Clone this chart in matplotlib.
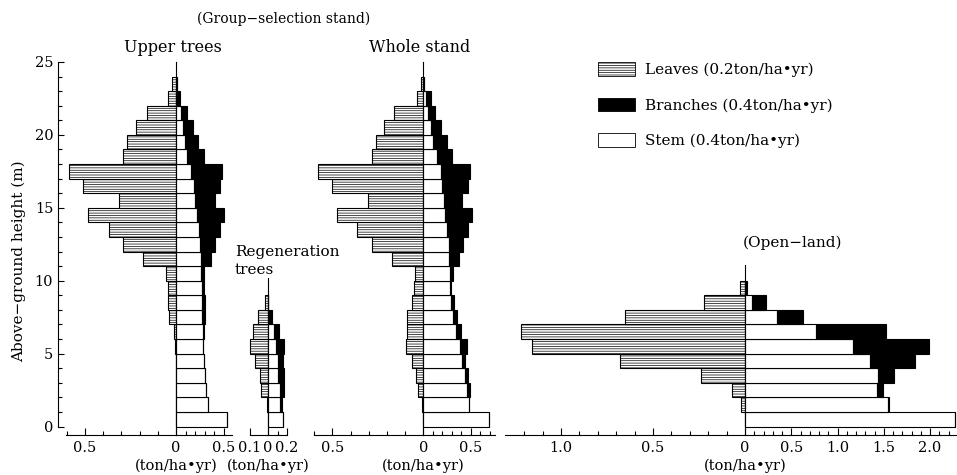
import numpy as np
import matplotlib
matplotlib.use('Agg')
import matplotlib.pyplot as plt
from matplotlib.patches import Patch
from matplotlib.ticker import MultipleLocator, FixedLocator, FuncFormatter

plt.rcParams['font.family'] = ['DejaVu Serif']
plt.rcParams['hatch.linewidth'] = 0.5

# ---------------- data (ton/ha/yr per 1-m height layer; lower edge of layer in m) -------------
upper_heights = [0, 1, 2, 3, 4, 5, 6, 7, 8, 9, 10, 11, 12, 13, 14, 15, 16, 17, 18, 19, 20, 21, 22, 23]
upper_leaves = [0, 0, 0, 0, 0, 0.004, 0.01, 0.038, 0.042, 0.046, 0.055, 0.18, 0.289, 0.366,
                0.482, 0.311, 0.513, 0.586, 0.289, 0.267, 0.22, 0.161, 0.042, 0.024]
upper_stem = [0.535, 0.34, 0.32, 0.31, 0.29, 0.285, 0.285, 0.278, 0.278, 0.274, 0.267, 0.267,
              0.257, 0.24, 0.226, 0.205, 0.19, 0.163, 0.12, 0.094, 0.076, 0.049, 0.0, 0.01]
upper_branches = [0, 0, 0, 0, 0, 0, 0.005, 0.031, 0.024, 0.018, 0.024, 0.105, 0.156, 0.225,
                  0.284, 0.208, 0.268, 0.323, 0.17, 0.139, 0.104, 0.062, 0.04, 0.005]

regen_heights = [0, 1, 2, 3, 4, 5, 6, 7, 8]
regen_leaves = [0, 0.005, 0.037, 0.046, 0.07, 0.097, 0.082, 0.055, 0.018]
regen_stem = [0.158, 0.13, 0.123, 0.105, 0.105, 0.088, 0.063, 0.01, 0.0]
regen_branches = [0, 0.017, 0.045, 0.063, 0.053, 0.08, 0.053, 0.03, 0.0]

whole_heights = [0, 1, 2, 3, 4, 5, 6, 7, 8, 9, 10, 11, 12, 13, 14, 15, 16, 17, 18, 19, 20, 21, 22, 23]
whole_leaves = [0, 0.005, 0.027, 0.04, 0.06, 0.095, 0.088, 0.088, 0.06, 0.049, 0.046, 0.17,
                0.284, 0.363, 0.476, 0.306, 0.504, 0.58, 0.284, 0.26, 0.214, 0.161, 0.037, 0.015]
whole_stem = [0.694, 0.476, 0.458, 0.44, 0.406, 0.382, 0.347, 0.312, 0.288, 0.285, 0.285, 0.27,
              0.271, 0.253, 0.233, 0.219, 0.198, 0.184, 0.149, 0.104, 0.08, 0.052, 0.025, 0.01]
whole_branches = [0, 0.005, 0.035, 0.029, 0.034, 0.076, 0.053, 0.046, 0.032, 0.01, 0.028, 0.102,
                  0.146, 0.216, 0.277, 0.187, 0.271, 0.309, 0.157, 0.149, 0.11, 0.068, 0.055, 0.0]

open_heights = [0, 1, 2, 3, 4, 5, 6, 7, 8, 9]
open_leaves = [0, 0.022, 0.069, 0.238, 0.68, 1.159, 1.218, 0.653, 0.222, 0.027]
open_stem = [2.27, 1.55, 1.43, 1.44, 1.35, 1.164, 0.768, 0.342, 0.072, 0.005]
open_branches = [0, 0.012, 0.065, 0.174, 0.488, 0.829, 0.752, 0.281, 0.151, 0.02]

legend_labels = ['Leaves (0.2ton/ha\u2022yr)', 'Branches (0.4ton/ha\u2022yr)', 'Stem (0.4ton/ha\u2022yr)']
unit_label = '(ton/ha\u2022yr)'

# ---------------- layout ----------------
W, H = 957, 475
fig = plt.figure(figsize=(W / 100, H / 100), dpi=100)

AX_TOP, AX_BOT = 50, 435
Y0_PX, PX_PER_M = 426.5, 14.58
YLIM = (-(AX_BOT - Y0_PX) / PX_PER_M, (Y0_PX - AX_TOP) / PX_PER_M)
HATCH = '-------'
LW = 0.8


def px_axes(x0, x1):
    return fig.add_axes([x0 / W, 1 - AX_BOT / H, (x1 - x0) / W, (AX_BOT - AX_TOP) / H])


def fmt(v, pos):
    return '0' if abs(v) < 1e-9 else f'{v:.1f}'


def panel(heights, leaves, branches, stem, x0, xz, x1, leaf_lim, wood_lim,
          leaf_major, wood_major, leaf_minor, wood_minor, line_top):
    axl = px_axes(x0, xz)
    axr = px_axes(xz, x1)
    y = np.asarray(heights, dtype=float) + 0.5
    axl.barh(y, leaves, height=1, facecolor='white', edgecolor='black',
             hatch=HATCH, linewidth=LW, clip_on=False)
    axr.barh(y, stem, height=1, facecolor='white', edgecolor='black',
             linewidth=LW, clip_on=False)
    axr.barh(y, branches, left=stem, height=1, facecolor='black', edgecolor='black',
             linewidth=LW, clip_on=False)
    axl.set_xlim(leaf_lim, 0)
    axr.set_xlim(0, wood_lim)
    for ax in (axl, axr):
        ax.set_ylim(*YLIM)
        ax.patch.set_visible(False)
        for s in ('top', 'right', 'left'):
            ax.spines[s].set_visible(False)
        ax.spines['bottom'].set_linewidth(LW)
        ax.tick_params(axis='x', which='both', direction='in', labelsize=10.5, pad=4, width=LW)
        ax.tick_params(axis='x', which='major', length=5)
        ax.tick_params(axis='x', which='minor', length=3)
        ax.tick_params(axis='y', which='both', left=False, labelleft=False)
        ax.xaxis.set_major_formatter(FuncFormatter(fmt))
    axl.xaxis.set_major_locator(FixedLocator(leaf_major))
    axr.xaxis.set_major_locator(FixedLocator(wood_major))
    axl.xaxis.set_minor_locator(FixedLocator(leaf_minor))
    axr.xaxis.set_minor_locator(FixedLocator(wood_minor))
    axr.plot([0, 0], [YLIM[0], line_top], color='black', lw=LW, clip_on=False)
    fig.text(xz / W, 1 - 466 / H, unit_label, ha='center', va='center', fontsize=10.5)
    return axl, axr


# Upper trees
axl1, axr1 = panel(upper_heights, upper_leaves, upper_branches, upper_stem,
                   66, 176, 232, 110 / 182, 56 / 95,
                   [0.5], [0, 0.5], [0.1, 0.2, 0.3, 0.4, 0.6], [0.1, 0.2, 0.3, 0.4],
                   25)
# Regeneration trees
panel(regen_heights, regen_leaves, regen_branches, regen_stem,
      249.8, 268, 287, 0.1, 0.2,
      [0.1], [0, 0.2], [], [0.1], 10.2)
# Whole stand
panel(whole_heights, whole_leaves, whole_branches, whole_stem,
      314, 423.3, 495, 109.3 / 182, 71.7 / 95,
      [0.5], [0, 0.5], [0.1, 0.2, 0.3, 0.4, 0.6], [0.1, 0.2, 0.3, 0.4, 0.6, 0.7],
      25)
# Open land
panel(open_heights, open_leaves, open_branches, open_stem,
      505, 745, 957, 240 / 184, 212 / 92.5,
      [0.5, 1.0], [0, 0.5, 1.0, 1.5, 2.0],
      [0.1, 0.2, 0.3, 0.4, 0.6, 0.7, 0.8, 0.9, 1.1, 1.2],
      [0.1, 0.2, 0.3, 0.4, 0.6, 0.7, 0.8, 0.9, 1.1, 1.2, 1.3, 1.4, 1.6, 1.7, 1.8, 1.9, 2.1, 2.2],
      11.05)

# y axis on the first panel
sp = axl1.spines['left']
sp.set_visible(True)
sp.set_linewidth(LW)
sp.set_position(('outward', 8 * 0.72))
sp.set_bounds(0, 25)
axl1.set_yticks([0, 5, 10, 15, 20, 25])
axl1.yaxis.set_minor_locator(MultipleLocator(1))
axl1.tick_params(axis='y', which='both', left=True, labelleft=True, direction='in',
                 labelsize=10.5, pad=3.5, width=LW)
axl1.tick_params(axis='y', which='major', length=4)
axl1.tick_params(axis='y', which='minor', length=3)

fig.text(19 / W, 1 - 261 / H, 'Above\u2212ground height (m)', rotation=90,
         ha='center', va='center', fontsize=11)

# titles
fig.text(284 / W, 1 - 19 / H, '(Group\u2212selection stand)', ha='center', va='center', fontsize=10)
fig.text(173 / W, 1 - 47 / H, 'Upper trees', ha='center', va='center', fontsize=11.5)
fig.text(420 / W, 1 - 48 / H, 'Whole stand', ha='center', va='center', fontsize=11.5)
fig.text(235 / W, 1 - 252 / H, 'Regeneration', ha='left', va='center', fontsize=11)
fig.text(235 / W, 1 - 270 / H, 'trees', ha='left', va='center', fontsize=11)
fig.text(792 / W, 1 - 243 / H, '(Open\u2212land)', ha='center', va='center', fontsize=11)

# legend
handles = [Patch(facecolor='white', edgecolor='black', hatch=HATCH, linewidth=0.6),
           Patch(facecolor='black', edgecolor='black', linewidth=0.6),
           Patch(facecolor='white', edgecolor='black', linewidth=0.6)]
fig.legend(handles, legend_labels, loc='upper left', bbox_to_anchor=(598 / W, 1 - 62 / H),
           frameon=False, handlelength=2.4, handleheight=1.0, labelspacing=1.35,
           handletextpad=0.65, borderpad=0, borderaxespad=0, fontsize=11)

fig.savefig('out.png', dpi=100)
